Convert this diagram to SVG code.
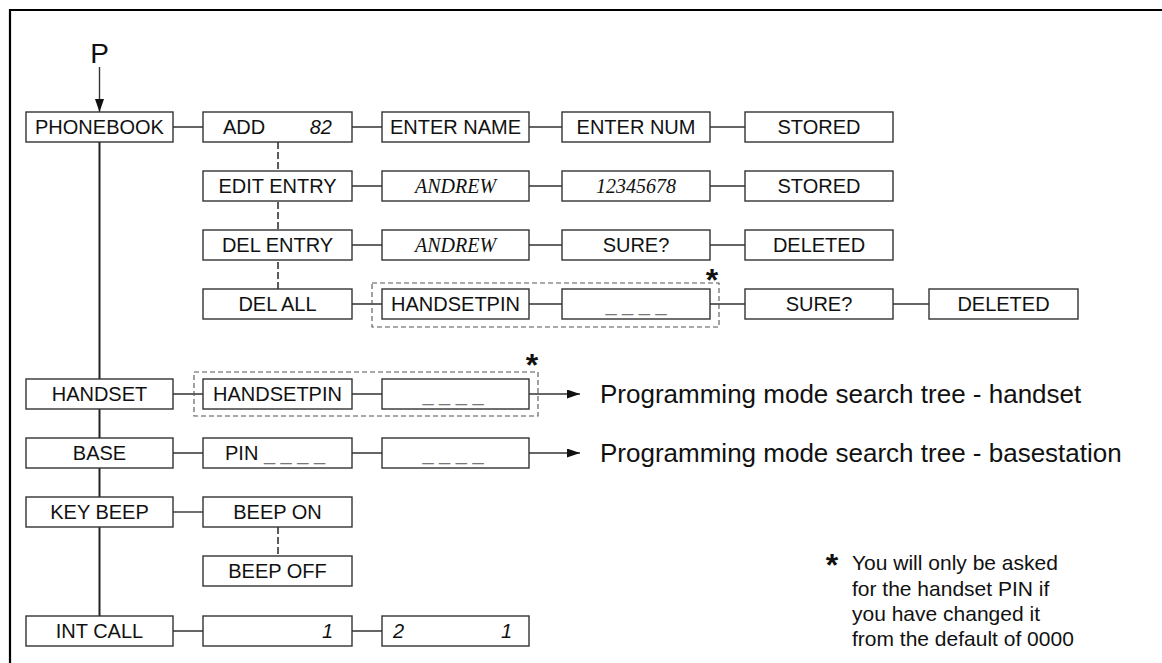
<svg xmlns="http://www.w3.org/2000/svg" width="1162" height="663" viewBox="0 0 1162 663">
<style>
.bx{fill:#fff;stroke:#333;stroke-width:1.4}
.t{font-family:"Liberation Sans",Arial,sans-serif;font-size:20px;fill:#111}
.c{text-anchor:middle}
.e{text-anchor:end}
.i{font-style:italic}
.ts{font-family:"Liberation Serif","Times New Roman",serif;font-size:20px;font-style:italic;fill:#111;text-anchor:middle}
.g{fill:#777}
.ln{stroke:#333;stroke-width:1.4;fill:none}
.main{stroke:#222;stroke-width:2;fill:none}
.dv{stroke:#333;stroke-width:1.6;stroke-dasharray:7 3;fill:none}
.db{stroke:#555;stroke-width:1.1;stroke-dasharray:5 3;fill:none}
.big{font-family:"Liberation Sans",Arial,sans-serif;font-size:26px;fill:#111}
.fn{font-family:"Liberation Sans",Arial,sans-serif;font-size:21px;fill:#111}
.ast{font-family:"Liberation Sans",Arial,sans-serif;font-size:32px;font-weight:bold;fill:#111;text-anchor:middle}
</style>
<defs>
<marker id="ah" markerWidth="13" markerHeight="9" refX="13" refY="4.5" orient="auto" markerUnits="userSpaceOnUse">
<path d="M0,0 L13,4.5 L0,9 Z" fill="#111"/>
</marker>
</defs>
<rect width="1162" height="663" fill="#fff"/>
<path d="M10,665 V10 H1165" fill="none" stroke="#000" stroke-width="2.2"/>

<g id="connectors">
<text class="t c" x="99.5" y="63" style="font-size:28px">P</text>
<line class="ln" x1="99.5" y1="67" x2="99.5" y2="112" marker-end="url(#ah)"/>
<line class="main" x1="99.5" y1="142" x2="99.5" y2="616"/>
<line class="dv" x1="278" y1="142" x2="278" y2="289"/>
<line class="dv" x1="278" y1="527" x2="278" y2="556"/>
<path class="ln" d="M173,127H203M352,127H382M529,127H562M710,127H745"/>
<path class="ln" d="M352,186H382M529,186H562M710,186H745"/>
<path class="ln" d="M352,245H382M529,245H562M710,245H745"/>
<path class="ln" d="M352,304H382M529,304H562M710,304H745M893,304H929"/>
<path class="ln" d="M173,394H203M352,394H382"/>
<line class="ln" x1="529" y1="394" x2="580" y2="394" marker-end="url(#ah)"/>
<path class="ln" d="M173,453H203M352,453H382"/>
<line class="ln" x1="529" y1="453" x2="580" y2="453" marker-end="url(#ah)"/>
<path class="ln" d="M173,512H203"/>
<path class="ln" d="M173,631H203M352,631H382"/>
<rect class="db" x="372" y="283" width="347" height="44"/>
<rect class="db" x="194" y="372" width="344" height="44"/>
</g>

<g id="phonebook"><rect class="bx" x="26" y="112" width="147" height="30"/><text class="t c" x="99.5" y="134">PHONEBOOK</text></g>
<g id="add"><rect class="bx" x="203" y="112" width="149" height="30"/><text class="t" x="223" y="134">ADD</text><text class="t i e" x="332" y="134">82</text></g>
<g id="enter-name"><rect class="bx" x="382" y="112" width="147" height="30"/><text class="t c" x="455.5" y="134">ENTER NAME</text></g>
<g id="enter-num"><rect class="bx" x="562" y="112" width="148" height="30"/><text class="t c" x="636" y="134">ENTER NUM</text></g>
<g id="stored1"><rect class="bx" x="745" y="112" width="148" height="30"/><text class="t c" x="819" y="134">STORED</text></g>

<g id="edit-entry"><rect class="bx" x="203" y="171" width="149" height="30"/><text class="t c" x="277.5" y="193">EDIT ENTRY</text></g>
<g id="andrew1"><rect class="bx" x="382" y="171" width="147" height="30"/><text class="ts" x="455.5" y="193">ANDREW</text></g>
<g id="num"><rect class="bx" x="562" y="171" width="148" height="30"/><text class="ts" x="636" y="193">12345678</text></g>
<g id="stored2"><rect class="bx" x="745" y="171" width="148" height="30"/><text class="t c" x="819" y="193">STORED</text></g>

<g id="del-entry"><rect class="bx" x="203" y="230" width="149" height="30"/><text class="t c" x="277.5" y="252">DEL ENTRY</text></g>
<g id="andrew2"><rect class="bx" x="382" y="230" width="147" height="30"/><text class="ts" x="455.5" y="252">ANDREW</text></g>
<g id="sure1"><rect class="bx" x="562" y="230" width="148" height="30"/><text class="t c" x="636" y="252">SURE?</text></g>
<g id="deleted1"><rect class="bx" x="745" y="230" width="148" height="30"/><text class="t c" x="819" y="252">DELETED</text></g>

<g id="del-all"><rect class="bx" x="203" y="289" width="149" height="30"/><text class="t c" x="277.5" y="311">DEL ALL</text></g>
<g id="handsetpin1"><rect class="bx" x="382" y="289" width="147" height="30"/><text class="t c" x="455.5" y="311">HANDSETPIN</text></g>
<g id="pin1"><rect class="bx" x="562" y="289" width="148" height="30"/><text class="t c g" x="636" y="311">_ _ _ _</text></g>
<g id="sure2"><rect class="bx" x="745" y="289" width="148" height="30"/><text class="t c" x="819" y="311">SURE?</text></g>
<g id="deleted2"><rect class="bx" x="929" y="289" width="149" height="30"/><text class="t c" x="1003.5" y="311">DELETED</text></g>
<text class="ast" x="712" y="291">*</text>

<g id="handset"><rect class="bx" x="26" y="379" width="147" height="30"/><text class="t c" x="99.5" y="401">HANDSET</text></g>
<g id="handsetpin2"><rect class="bx" x="203" y="379" width="149" height="30"/><text class="t c" x="277.5" y="401">HANDSETPIN</text></g>
<g id="pin2"><rect class="bx" x="382" y="379" width="147" height="30"/><text class="t c g" x="453" y="401">_ _ _ _</text></g>
<text class="ast" x="532" y="376">*</text>
<text class="big" x="600" y="403">Programming mode search tree - handset</text>

<g id="base"><rect class="bx" x="26" y="438" width="147" height="30"/><text class="t c" x="99.5" y="460">BASE</text></g>
<g id="pin-base"><rect class="bx" x="203" y="438" width="149" height="30"/><text class="t" x="225" y="460">PIN <tspan class="g">_ _ _ _</tspan></text></g>
<g id="pin3"><rect class="bx" x="382" y="438" width="147" height="30"/><text class="t c g" x="453" y="460">_ _ _ _</text></g>
<text class="big" x="600" y="462">Programming mode search tree - basestation</text>

<g id="key-beep"><rect class="bx" x="26" y="497" width="147" height="30"/><text class="t c" x="99.5" y="519">KEY BEEP</text></g>
<g id="beep-on"><rect class="bx" x="203" y="497" width="149" height="30"/><text class="t c" x="277.5" y="519">BEEP ON</text></g>
<g id="beep-off"><rect class="bx" x="203" y="556" width="149" height="30"/><text class="t c" x="277.5" y="578">BEEP OFF</text></g>

<g id="int-call"><rect class="bx" x="26" y="616" width="147" height="30"/><text class="t c" x="99.5" y="638">INT CALL</text></g>
<g id="int1"><rect class="bx" x="203" y="616" width="149" height="30"/><text class="t i e" x="333" y="638">1</text></g>
<g id="int2"><rect class="bx" x="382" y="616" width="147" height="30"/><text class="t i" x="393" y="638">2</text><text class="t i e" x="512" y="638">1</text></g>

<g id="footnote">
<text class="ast" x="832" y="576">*</text>
<text class="fn" x="852" y="570">You will only be asked</text>
<text class="fn" x="852" y="595.5">for the handset PIN if</text>
<text class="fn" x="852" y="621">you have changed it</text>
<text class="fn" x="852" y="646">from the default of 0000</text>
</g>
</svg>
